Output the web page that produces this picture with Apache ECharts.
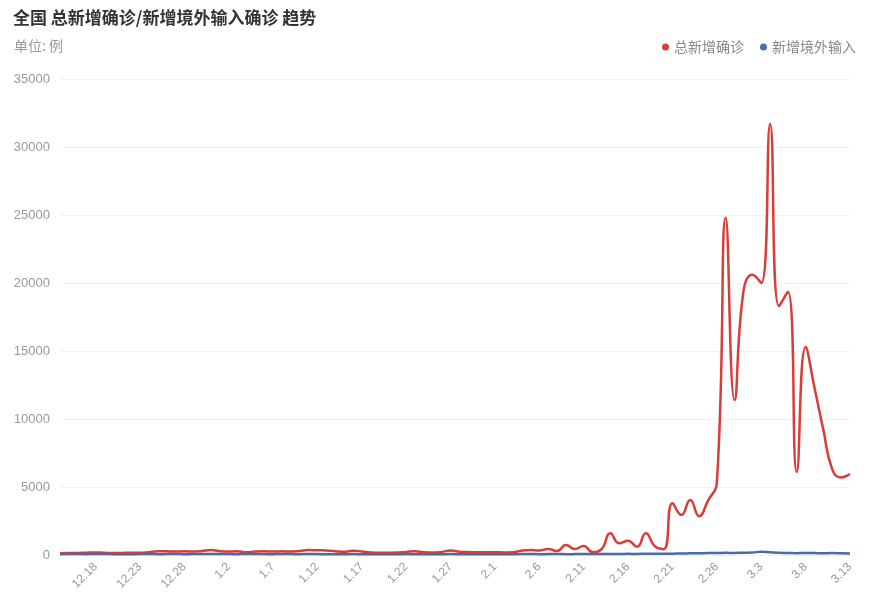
<!DOCTYPE html>
<html>
<head>
<meta charset="utf-8">
<script src="https://cdn.jsdelivr.net/npm/echarts@6/dist/echarts.min.js"></script>
<style>
html,body{margin:0;padding:0;background:#fff;}
#main{width:873px;height:598px;}
</style>
</head>
<body>
<div id="main"></div>
<script>
const dates = ["12.14","12.15","12.16","12.17","12.18","12.19","12.20","12.21","12.22","12.23","12.24","12.25","12.26","12.27","12.28","12.29","12.30","12.31",
"1.1","1.2","1.3","1.4","1.5","1.6","1.7","1.8","1.9","1.10","1.11","1.12","1.13","1.14","1.15","1.16","1.17","1.18","1.19","1.20","1.21","1.22","1.23","1.24","1.25","1.26","1.27","1.28","1.29","1.30","1.31",
"2.1","2.2","2.3","2.4","2.5","2.6","2.7","2.8","2.9","2.10","2.11","2.12","2.13","2.14","2.15","2.16","2.17","2.18","2.19","2.20","2.21","2.22","2.23","2.24","2.25","2.26","2.27","2.28",
"3.1","3.2","3.3","3.4","3.5","3.6","3.7","3.8","3.9","3.10","3.11","3.12","3.13"];

const totalNew = [130,140,150,170,190,160,140,150,170,160,200,270,280,250,270,260,300,360,
280,250,280,200,260,270,260,270,260,300,360,350,340,280,230,310,260,180,160,170,180,230,270,200,180,230,330,240,220,200,210,
200,190,210,320,360,330,450,290,730,440,660,220,420,1600,860,1050,600,1600,650,430,3800,2950,4050,2850,4000,5300,24800,11400,
19400,20600,20000,31700,18300,19350,6100,15300,12300,9200,6300,5700,5950];

const importedNew = [60,65,70,60,75,70,60,55,60,65,70,60,65,70,60,65,70,75,
70,65,60,70,75,65,60,70,65,60,70,65,60,55,60,65,60,55,50,55,60,65,60,55,50,60,65,60,55,60,55,
60,55,60,65,70,60,65,70,60,65,70,75,70,80,75,85,80,90,85,95,100,110,120,130,140,150,160,150,
170,180,240,200,160,150,130,150,140,120,140,120,110];

const seriesNames = ["总新增确诊","新增境外输入"];
const yTicks = {min:0, max:35000, interval:5000};

const chart = echarts.init(document.getElementById('main'));
const last = dates.length - 1;
chart.setOption({
  animation:false,
  backgroundColor:'#fff',
  color:['#d83d3a','#4a6aa8'],
  title:[
    {text:'全国 总新增确诊/新增境外输入确诊 趋势', left:8, top:4,
     textStyle:{fontSize:17, fontWeight:'bold', color:'#333', fontFamily:'Noto Sans CJK SC'}},
    {text:'单位: 例', left:9, top:34,
     textStyle:{fontSize:14, fontWeight:'normal', color:'#999', fontFamily:'Noto Sans CJK SC'}}
  ],
  legend:{
    data:seriesNames, right:12, top:35, icon:'circle', itemWidth:7, itemHeight:7, itemGap:16,
    textStyle:{fontSize:14, color:'#888', fontFamily:'Noto Sans CJK SC'}
  },
  grid:{left:60, right:23, top:79, bottom:43, containLabel:false},
  xAxis:{
    type:'category', data:dates, boundaryGap:false,
    axisLine:{show:true, lineStyle:{color:'#eee'}},
    axisTick:{show:false},
    axisLabel:{
      rotate:45, color:'#999', fontSize:12, margin:10,
      interval:function(i){return (last - i) % 5 === 0;}
    },
    splitLine:{show:false}
  },
  yAxis:{
    type:'value', min:yTicks.min, max:yTicks.max, interval:yTicks.interval,
    axisLine:{show:false}, axisTick:{show:false},
    axisLabel:{color:'#999', fontSize:13, margin:10, formatter:function(v){return String(v);}},
    splitLine:{lineStyle:{color:'#f3f3f3'}}
  },
  series:[
    {name:seriesNames[0], type:'line', data:totalNew, smooth:true, showSymbol:false, symbol:'circle',
     lineStyle:{width:2.5}},
    {name:seriesNames[1], type:'line', data:importedNew, smooth:true, showSymbol:false, symbol:'circle',
     lineStyle:{width:2.5}}
  ]
});
</script>
</body>
</html>
